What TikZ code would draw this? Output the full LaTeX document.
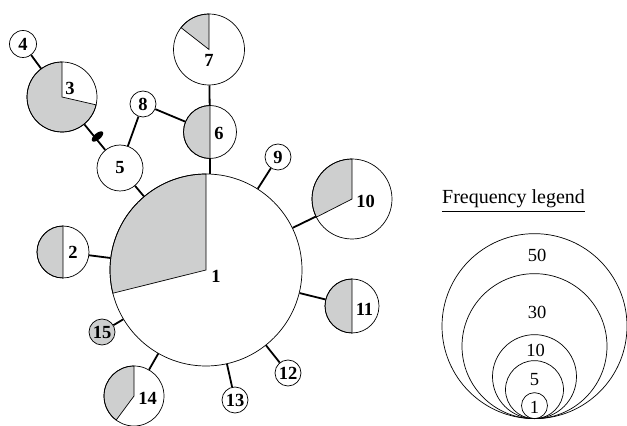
\documentclass[tikz,border=0pt]{standalone}
\usepackage{fontspec}
\setmainfont{Liberation Serif}
\usetikzlibrary{shapes.geometric,calc}
\pgfdeclarelayer{background}
\pgfsetlayers{background,main}
\definecolor{pie}{RGB}{206,207,207}
\begin{document}
\begin{tikzpicture}[x=1pt,y=1pt,
  hap/.style={circle, draw, line width=0.7pt, inner sep=0pt, minimum size=#1},
  sector/.style={fill=pie, draw, line width=0.7pt},
  link/.style={line width=1.8pt},
  num/.style={font=\fontsize{18.5}{18.5}\selectfont\bfseries, inner sep=0pt},
  legnum/.style={font=\fontsize{18.5}{18.5}\selectfont, inner sep=0pt},
  legring/.style={circle, draw, line width=0.7pt, inner sep=0pt, anchor=south, minimum size=#1},
  mut/.style={ellipse, fill=black, inner sep=0pt, minimum width=14pt, minimum height=6.5pt}]
\useasboundingbox (0,0) rectangle (627,426);

% haplotype circles
\node[hap=192pt] (n1) at (206,156) {};
\node[hap=52pt] (n2) at (63,174) {};
\node[hap=70pt] (n3) at (62,329) {};
\node[hap=27pt, num] (n4) at (23,382) {4};
\node[hap=46pt, num] (n5) at (120,258) {5};
\node[hap=53pt] (n6) at (210,294) {};
\node[hap=71pt] (n7) at (209,376.5) {};
\node[hap=26pt, num] (n8) at (143,322) {8};
\node[hap=26pt, num] (n9) at (278,269) {9};
\node[hap=80pt] (n10) at (352,227) {};
\node[hap=54pt] (n11) at (352,120) {};
\node[hap=26pt, num] (n12) at (288,53) {12};
\node[hap=26pt, num] (n13) at (235,26) {13};
\node[hap=60pt] (n14) at (134,30) {};
\node[hap=26pt, num, fill=pie] (n15) at (102,94) {15};

% pie sectors
\begin{pgfonlayer}{background}
  \filldraw[sector] (n1.center) -- ++(90:96) arc[start angle=90, end angle=194, radius=96] -- cycle;
  \filldraw[sector] (n2.center) -- ++(90:26) arc[start angle=90, end angle=270, radius=26] -- cycle;
  \filldraw[sector] (n3.center) -- ++(90:35) arc[start angle=90, end angle=347, radius=35] -- cycle;
  \filldraw[sector] (n6.center) -- ++(90:26.5) arc[start angle=90, end angle=270, radius=26.5] -- cycle;
  \filldraw[sector] (n7.center) -- ++(90:35.5) arc[start angle=90, end angle=142, radius=35.5] -- cycle;
  \filldraw[sector] (n10.center) -- ++(90:40) arc[start angle=90, end angle=207, radius=40] -- cycle;
  \filldraw[sector] (n11.center) -- ++(90:27) arc[start angle=90, end angle=270, radius=27] -- cycle;
  \filldraw[sector] (n14.center) -- ++(90:30) arc[start angle=90, end angle=233.5, radius=30] -- cycle;
\end{pgfonlayer}

% labels placed off-centre
\node[num] (t1) at ($(n1)+(10,-6)$) {1};
\node[num] (t2) at ($(n2)+(10,0)$) {2};
\node[num] (t3) at ($(n3)+(8,9)$) {3};
\node[num] (t6) at ($(n6)+(9,-1)$) {6};
\node[num] (t7) at ($(n7)+(0,-10.5)$) {7};
\node[num] (t10) at ($(n10)+(13.5,-2)$) {10};
\node[num] (t11) at ($(n11)+(12.5,-3)$) {11};
\node[num] (t14) at ($(n14)+(13.5,-2)$) {14};

% connectors
\draw[link] (n4) -- (n3);
\draw[link] (n3) -- (n5);
\node[mut, rotate=40] (m35) at (97.5,289.5) {};
\draw[link] (n5) -- (n8);
\draw[link] (n8) -- (n6);
\draw[link] (n5) -- (n1);
\draw[link] (n7) -- (n6);
\draw[link] (n6.south) -- (n6.south |- n1.north);
\draw[link] (n9) -- (n1);
\draw[link] (n10) -- (n1);
\draw[link] (n11) -- (n1);
\draw[link] (n12) -- (n1);
\draw[link] (n13) -- (n1);
\draw[link] (n14) -- (n1);
\draw[link] (n15) -- (n1);
\draw[link] (n2) -- (n1);

% frequency legend
\node[font=\fontsize{20}{20}\selectfont, inner sep=0pt] (legtitle) at (513.5,227) {Frequency legend};
\draw[line width=0.8pt] (legtitle.south west |- 0,215) -- (legtitle.south east |- 0,215);
\coordinate (legbase) at (534.5,7);
\node[legring=185pt] (r50) at (legbase) {};
\node[legring=145pt] (r30) at (legbase) {};
\node[legring=84pt] (r10) at (legbase) {};
\node[legring=58pt] (r5) at (legbase) {};
\node[legring=26pt] (r1) at (legbase) {};
\node[legnum] (v50) at (537,171) {50};
\node[legnum] (v30) at (537,114) {30};
\node[legnum] (v10) at (535.5,76) {10};
\node[legnum] (v5) at (534.5,46) {5};
\node[legnum] (v1) at (534.5,19) {1};
\end{tikzpicture}
\end{document}
